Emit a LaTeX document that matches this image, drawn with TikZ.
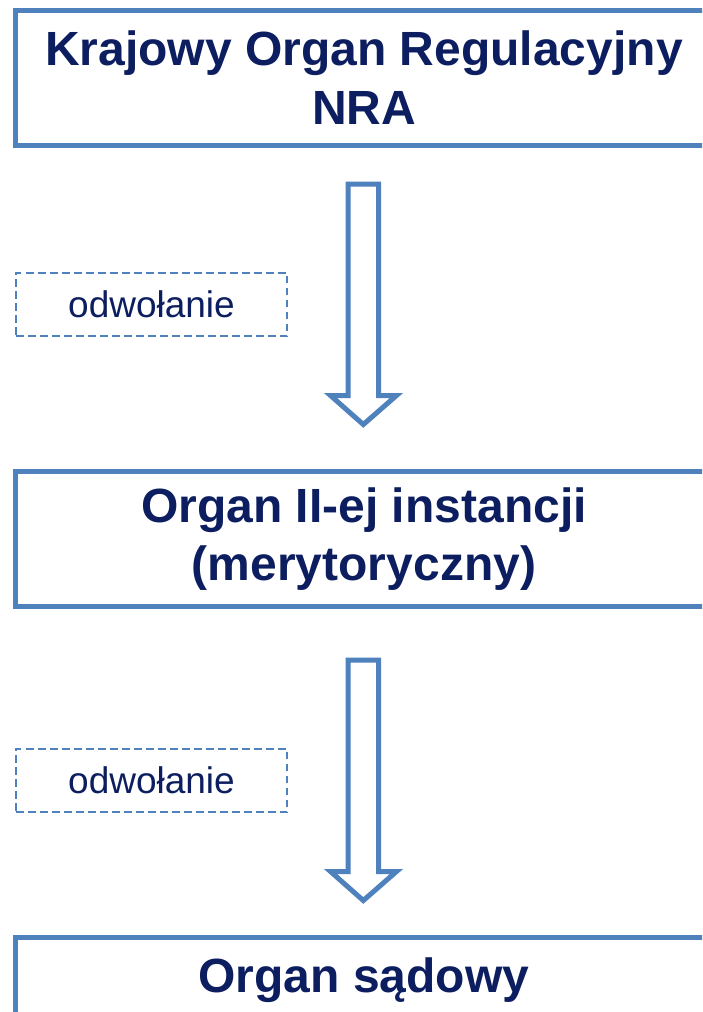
\documentclass[tikz,border=0pt]{standalone}
\usepackage{fontspec}
\setmainfont{Liberation Sans}
\definecolor{frameblue}{RGB}{79,129,189}
\definecolor{navy}{RGB}{12,30,95}
\tikzset{
  orgbox/.style={draw=frameblue, line width=5pt, line join=miter, rectangle,
    minimum width=696.4pt, minimum height=135pt, inner sep=0pt,
    align=center, text=navy, font=\fontsize{48}{58.3}\selectfont\bfseries},
  notebox/.style={draw=frameblue, line width=1.8pt, dash pattern=on 7.5pt off 4.5pt,
    rectangle, minimum width=271pt, minimum height=63.5pt, inner sep=0pt,
    text=navy, font=\fontsize{37}{43}\selectfont},
  blockarrow/.style={draw=frameblue, line width=5pt, line join=miter, fill=white}
}
\begin{document}
\begin{tikzpicture}[x=1pt,y=-1pt]
\useasboundingbox (0,0) rectangle (702,1012);
\clip (0,0) rectangle (702,1012);
\node[orgbox] (nra) at (364,77.5) {Krajowy Organ Regulacyjny\\NRA};
\node[orgbox] (second) at (364,539) {Organ II-ej instancji\\(merytoryczny)};
\node[orgbox, anchor=north, yshift=2.5pt, text height=35pt, text depth=58.5pt] (court) at (364,937) {Organ sądowy};
\node[notebox] (app1) at (151.5,304.5) {odwołanie};
\node[notebox] (app2) at (151.5,780.5) {odwołanie};
% block arrows
\draw[blockarrow] (348,184) -- (378.5,184) -- (378.5,395.5) -- (396.5,395.5) -- (363.3,424.5) -- (330.5,395.5) -- (348,395.5) -- cycle;
\draw[blockarrow] (348,660) -- (378.5,660) -- (378.5,871.5) -- (396.5,871.5) -- (363.3,900.5) -- (330.5,871.5) -- (348,871.5) -- cycle;
\end{tikzpicture}
\end{document}
